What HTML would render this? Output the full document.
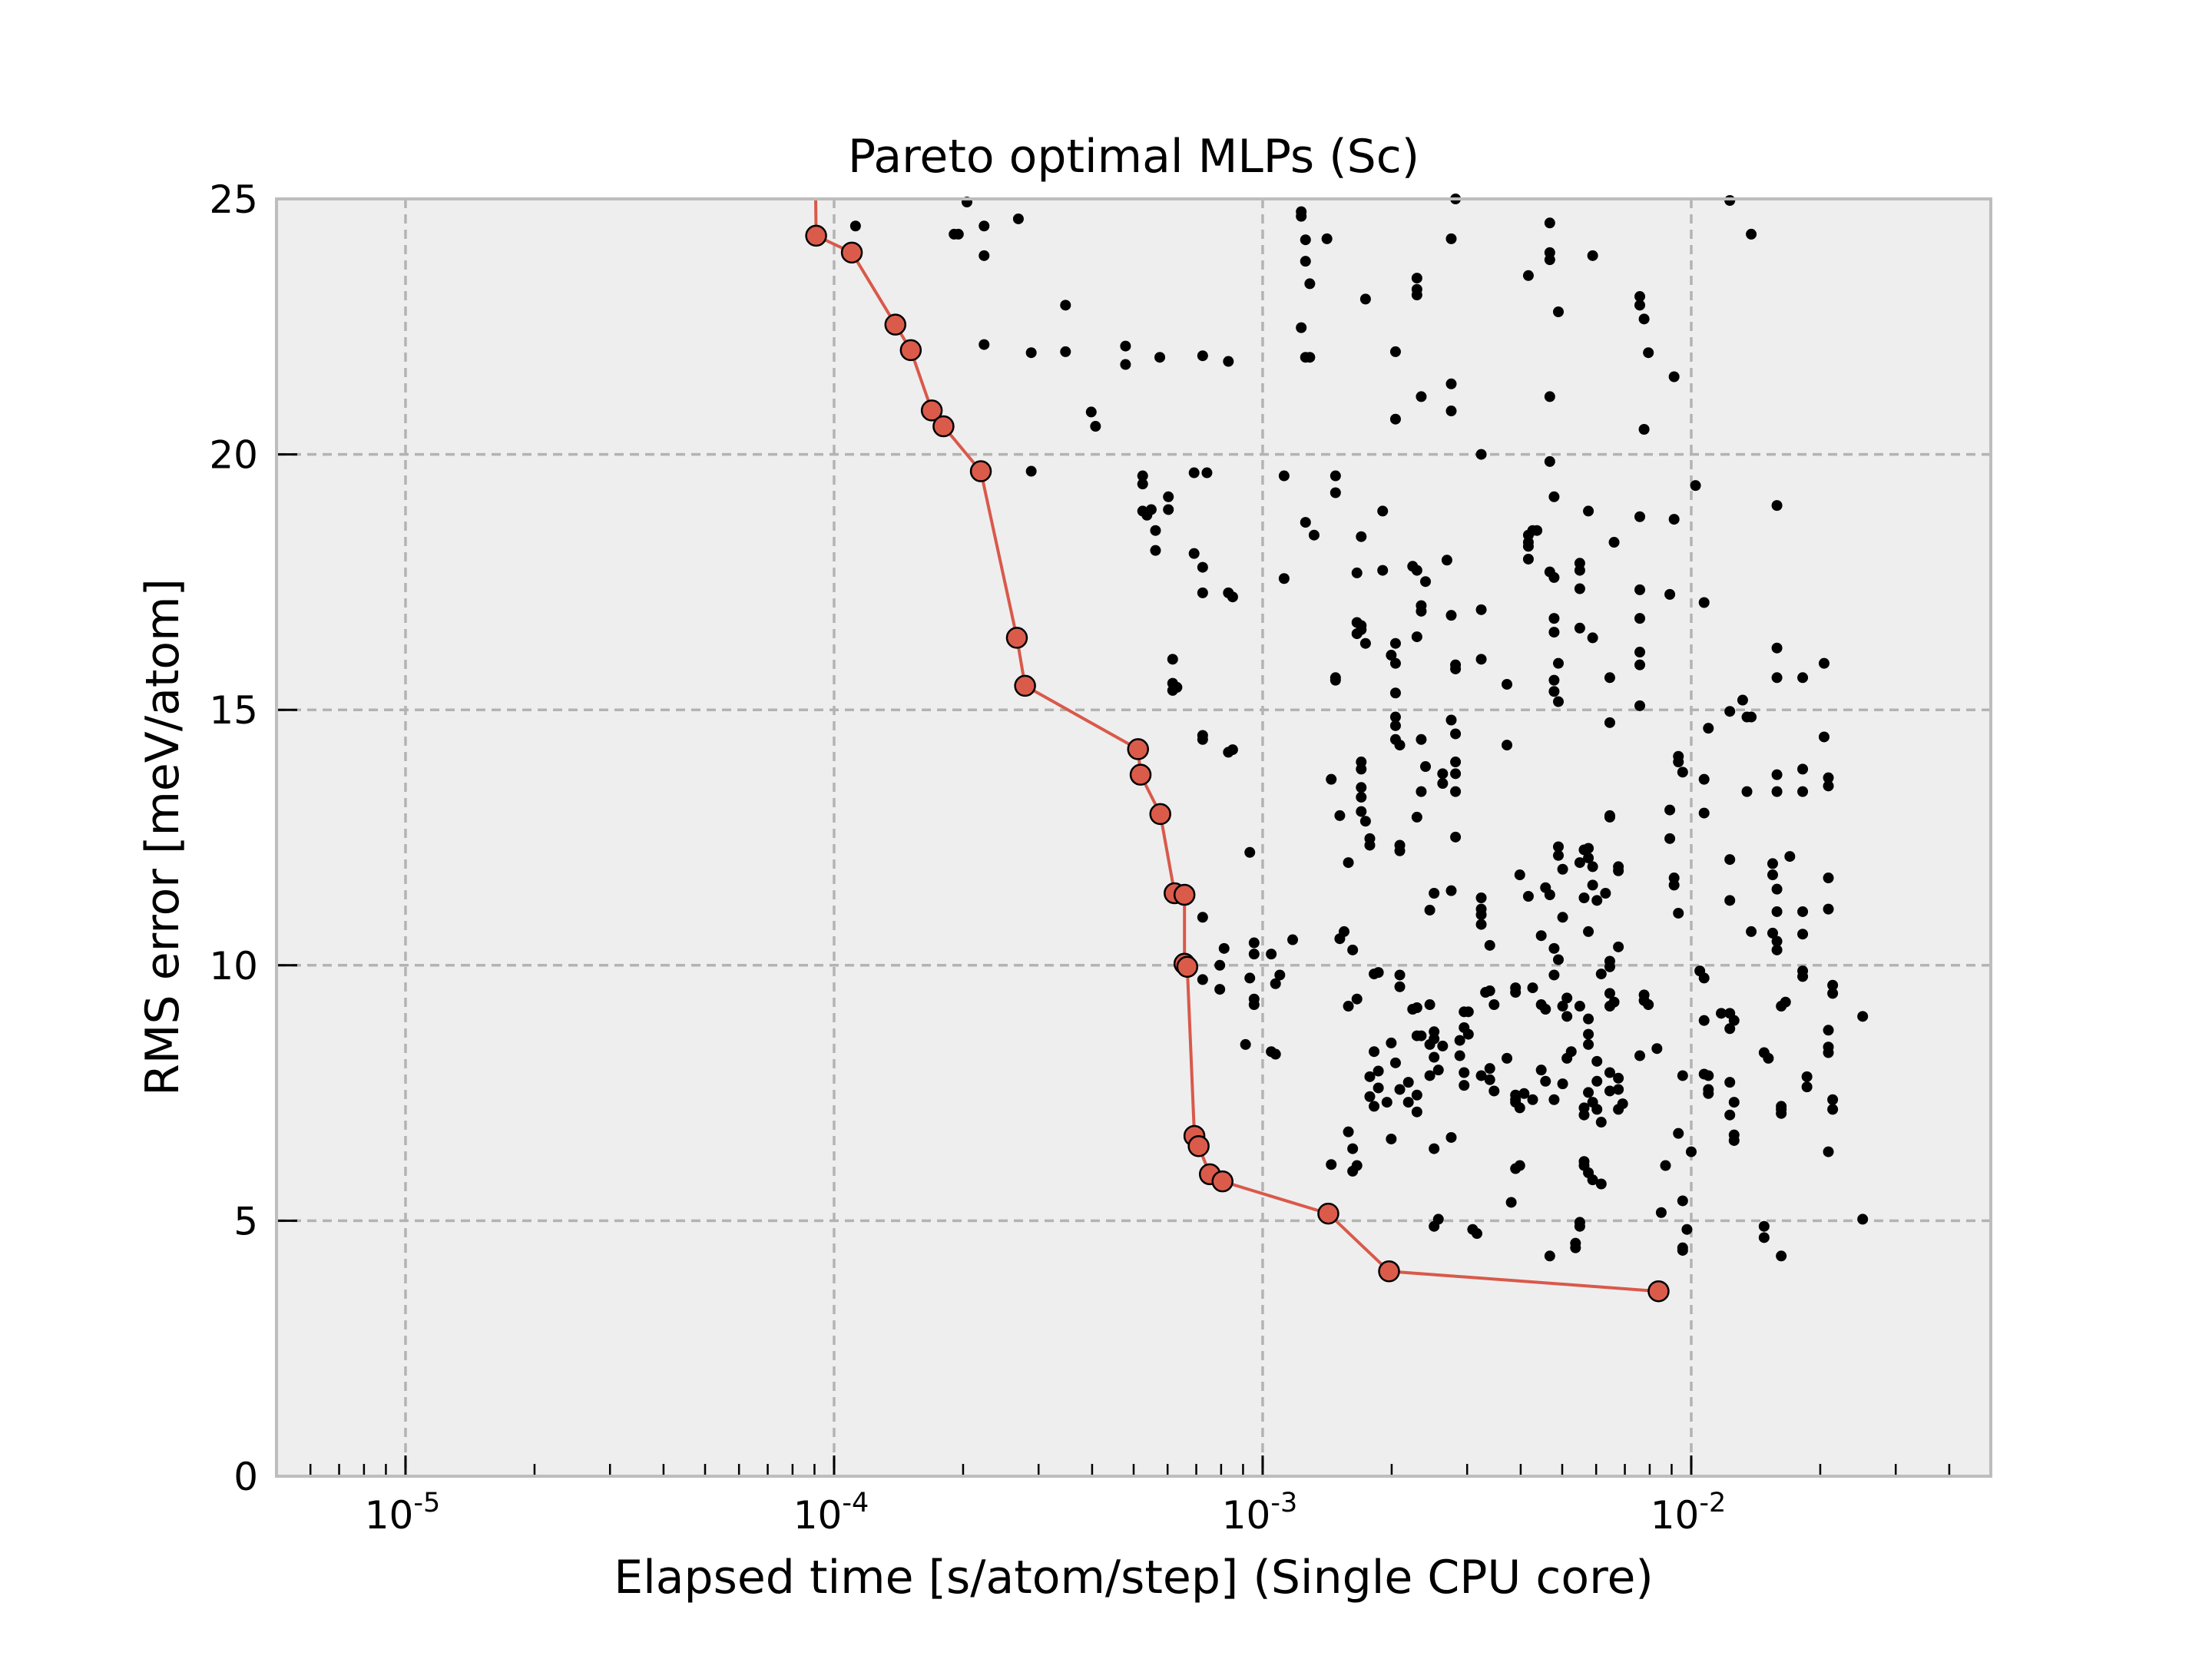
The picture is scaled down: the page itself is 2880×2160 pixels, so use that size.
<!DOCTYPE html>
<html><head><meta charset="utf-8">
<style>
html,body{margin:0;padding:0;background:#fff;}
svg{display:block;}
text{font-family:"DejaVu Sans","Liberation Sans",sans-serif;fill:#000;}
</style></head>
<body>
<svg id="chart" width="2880" height="2160" viewBox="0 0 2880 2160" xmlns="http://www.w3.org/2000/svg">
<rect x="0" y="0" width="2880" height="2160" fill="#fff"/>
<rect x="360" y="259" width="2232" height="1663" fill="#eeeeee"/>
<g id="grid"></g>
<g id="ticks"></g>
<g id="scatter"></g>
<g id="pareto"></g>
<rect x="360" y="259" width="2232" height="1663" fill="none" stroke="#bdbdbd" stroke-width="4"/>
<g id="labels"></g>
<text x="1476" y="224" font-size="60" text-anchor="middle">Pareto optimal MLPs (Sc)</text>
<text x="1476" y="2074" font-size="60" text-anchor="middle">Elapsed time [s/atom/step] (Single CPU core)</text>
<text x="0" y="0" font-size="60" text-anchor="middle" transform="translate(232,1090) rotate(-90)">RMS error [meV/atom]</text>
</svg>
<script>
const yTicks = [0, 5, 10, 15, 20, 25];
const xDecades = [-5, -4, -3, -2];
const paretoTime = [9.0e-5, 9.08e-5, 1.10e-4, 1.39e-4, 1.51e-4, 1.69e-4, 1.80e-4, 2.20e-4, 2.67e-4, 2.79e-4, 5.12e-4, 5.19e-4, 5.77e-4, 6.23e-4, 6.57e-4, 6.57e-4, 6.67e-4, 6.93e-4, 7.09e-4, 7.53e-4, 8.06e-4, 1.423e-3, 1.972e-3, 8.39e-3];
const paretoRms = [27, 24.28, 23.95, 22.54, 22.04, 20.86, 20.55, 19.67, 16.41, 15.47, 14.23, 13.73, 12.96, 11.41, 11.38, 10.03, 9.97, 6.66, 6.46, 5.91, 5.77, 5.14, 4.01, 3.62];
const scatterLogTime = [
-3.95,-3.69,-3.65,-3.65,-3.72,-3.71,-3.57,-2.91,-2.91,-2.90,-2.85,-2.90,-2.89,-2.55,-2.56,-2.64,-2.64,-2.64,-2.33,-2.33,-2.33,-2.38,-2.23,-2.31,-2.33,-1.91,-1.86,-2.12,-2.12,-2.11,-2.10,-2.04,-2.11,-2.56,-2.56,-2.63,-2.69,-2.69,-2.76,-2.91,-2.90,-2.89,-3.46,-3.46,-3.54,-3.65,-3.40,-3.39,-3.32,-3.32,-3.24,-3.14,-3.08,-3.54,
-3.28,-3.28,-3.28,-3.27,-3.26,-3.22,-3.22,-3.25,-3.25,-3.16,-3.13,-3.16,-3.14,-3.14,-3.08,-3.07,-3.21,-3.21,-3.20,-3.21,-3.14,-3.14,-3.07,-3.08,-2.95,-2.95,-2.90,-2.88,-2.83,-2.83,-2.83,-2.83,-2.72,-2.72,-2.77,-2.78,-2.78,-2.78,-2.77,-2.76,-2.77,-2.69,-2.70,-2.69,-2.69,-2.69,-2.69,-2.65,-2.64,-2.62,-2.63,-2.63,-2.64,-2.57,-2.56,-2.55,-2.55,-2.56,-2.55,-2.49,-2.49,-2.49,-2.43,-2.43,-2.38,-2.38,-2.38,-2.37,-2.38,-2.36,-2.33,-2.32,-2.33,-2.32,-2.32,-2.32,-2.32,-2.32,-2.31,-2.31,-2.26,-2.26,-2.26,-2.26,-2.24,-2.18,-2.23,-2.19,-2.19,-2.12,-2.12,-2.12,-2.12,-2.12,-2.12,-2.05,-2.04,-1.99,-1.97,-2.05,-1.80,-1.80,-1.80,-1.74,-1.69,-1.69,-1.91,-1.88,-1.87,-1.86,-1.80,-1.80,-1.74,-1.74,-1.68,-1.68,-1.87,-1.97,-1.97,-2.02,-2.03,-2.03,-1.96,-2.19,
-2.84,-2.82,-2.77,-2.77,-2.77,-2.77,-2.77,-2.76,-2.75,-2.75,-2.80,-2.69,-2.68,-2.68,-2.68,-2.63,-2.62,-2.63,-2.64,-2.58,-2.58,-2.55,-2.55,-2.55,-2.55,-2.56,-2.60,-2.61,-2.49,-2.49,-2.47,-2.49,-2.49,-2.40,-2.38,-2.34,-2.33,-2.35,-2.31,-2.31,-2.30,-2.26,-2.25,-2.24,-2.23,-2.25,-2.23,-2.20,-2.24,-2.30,-2.32,-2.19,-2.17,-2.17,-2.22,-2.24,-2.19,-2.19,-2.17,-2.05,-2.04,-2.04,-2.03,-1.91,-1.91,-1.86,-1.81,-1.81,-1.80,-1.80,-1.81,-1.80,-1.80,-1.74,-1.74,-1.68,-1.68,-1.77,-3.03,-3.14,-3.09,-3.10,-3.14,-3.10,-3.02,-3.02,-2.98,-2.96,-2.97,-2.93,-3.03,-3.02,-3.02,-3.04,-2.98,-2.97,-2.81,-2.82,-2.79,
-2.80,-2.78,-2.74,-2.73,-2.68,-2.68,-2.65,-2.64,-2.64,-2.63,-2.61,-2.60,-2.60,-2.58,-2.53,-2.52,-2.53,-2.52,-2.48,-2.47,-2.46,-2.41,-2.41,-2.37,-2.35,-2.34,-2.32,-2.31,-2.29,-2.30,-2.29,-2.26,-2.24,-2.24,-2.24,-2.21,-2.19,-2.19,-2.18,-2.11,-2.11,-2.10,-1.98,-1.97,-1.97,-1.93,-1.91,-1.90,-1.91,-1.78,-1.79,-1.74,-1.74,-1.67,-1.67,-1.68,-1.68,-1.68,-1.60,
-2.74,-2.73,-2.73,-2.75,-2.75,-2.74,-2.71,-2.70,-2.69,-2.68,-2.66,-2.66,-2.64,-2.61,-2.60,-2.61,-2.59,-2.54,-2.54,-2.53,-2.53,-2.49,-2.47,-2.43,-2.41,-2.41,-2.40,-2.39,-2.41,-2.46,-2.47,-2.37,-2.35,-2.34,-2.32,-2.30,-2.29,-2.28,-2.22,-2.22,-2.24,-2.23,-2.22,-2.21,-2.19,-2.19,-2.17,-2.17,-2.16,-2.17,-2.25,-2.25,-2.12,-2.08,-2.02,-1.96,-1.96,-1.96,-1.91,-1.90,-1.83,-1.82,-1.73,-1.73,-1.67,-1.67,-2.03,-2.00,-2.06,-1.97,-1.91,-1.90,-1.90,-1.79,-1.79,-1.79,-1.68,
-2.80,-2.79,-2.78,-2.79,-2.84,-2.70,-2.64,-2.56,-2.60,-2.41,-2.42,-2.40,-2.25,-2.25,-2.24,-2.23,-2.21,-2.59,-2.60,-2.51,-2.50,-2.33,-2.26,-2.26,-2.27,-2.27,-2.07,-2.02,-2.01,-2.02,-2.02,-1.83,-1.83,-1.79,-1.60];
const scatterRms = [
24.47,24.94,24.47,23.89,24.31,24.31,24.61,24.75,24.66,24.20,24.22,23.78,23.34,25.0,24.22,23.45,23.23,23.12,24.53,23.95,23.81,23.50,23.89,22.79,21.13,24.97,24.31,23.09,22.92,22.65,21.99,21.52,20.49,21.38,20.85,21.13,20.69,22.01,23.04,22.48,21.90,21.90,22.92,22.01,21.99,22.15,20.83,20.55,22.12,21.76,21.90,21.93,21.82,19.67,
19.58,19.42,18.89,18.81,18.92,19.17,18.92,18.51,18.12,19.64,19.64,18.06,17.79,17.29,17.29,17.21,15.99,15.52,15.44,15.38,14.50,14.42,14.22,14.17,19.58,17.57,18.67,18.42,19.58,19.25,15.63,15.58,18.89,17.73,18.39,17.68,16.71,16.49,16.65,16.30,16.57,16.30,16.07,15.91,15.33,14.86,14.69,17.81,17.73,17.51,16.93,17.04,16.43,17.93,16.85,15.88,15.80,14.80,14.53,20.00,16.96,15.99,15.50,14.31,18.42,18.28,18.20,18.51,17.95,18.51,17.70,17.59,19.86,19.17,16.79,16.52,15.58,15.36,15.16,15.91,17.87,17.73,17.37,16.60,18.89,18.28,16.41,15.63,14.75,18.78,17.35,16.79,16.13,15.88,15.08,17.26,18.73,19.39,17.10,13.04,19.00,16.21,15.63,15.63,15.91,14.47,14.97,15.19,14.86,14.86,13.73,13.40,13.84,13.40,13.67,13.51,13.40,13.64,12.98,13.78,13.98,14.09,14.64,12.93,
13.64,12.93,13.98,13.84,13.48,13.29,13.01,12.82,12.48,12.35,12.01,14.42,14.31,12.35,12.24,14.42,13.89,13.40,12.90,13.75,13.56,13.98,13.75,13.40,12.51,11.46,11.41,11.08,10.99,10.80,10.39,11.10,11.32,11.77,11.35,11.52,11.38,10.58,12.32,12.15,11.88,12.01,12.26,12.10,11.93,11.32,11.57,11.41,10.66,10.94,10.33,12.90,11.93,11.85,11.27,12.29,10.08,9.97,10.36,12.48,11.71,11.57,11.02,12.07,11.27,10.66,11.99,11.77,11.49,11.05,10.63,10.47,10.30,11.05,10.61,11.71,11.10,12.13,12.21,10.94,10.33,10.00,9.72,9.53,10.44,10.22,10.22,9.81,9.64,10.50,9.75,9.34,9.23,8.45,8.31,8.26,10.66,10.52,10.30,
9.20,9.34,9.83,9.86,9.81,9.58,9.14,9.17,8.62,8.62,9.23,8.70,8.56,8.42,9.09,9.09,8.78,8.65,9.47,9.50,9.23,9.56,9.47,9.56,9.23,9.14,9.81,10.11,9.36,9.20,9.00,9.20,8.95,8.65,8.45,9.83,9.45,9.20,9.28,9.42,9.31,9.23,9.89,9.75,8.92,9.06,9.06,8.92,8.76,9.28,9.20,9.89,9.78,9.61,9.45,8.73,8.40,8.29,9.00,
8.31,7.93,7.60,7.82,7.43,7.24,7.32,8.48,8.09,7.57,7.71,7.32,7.46,7.84,8.20,8.45,7.95,8.53,8.23,7.90,7.65,7.84,7.98,8.18,7.46,7.32,7.21,7.49,7.37,7.54,7.76,7.37,7.95,7.73,7.37,7.68,8.18,8.31,8.12,7.73,7.51,7.32,7.18,6.93,7.54,7.90,7.79,7.57,7.29,7.18,7.21,7.07,8.23,8.37,7.84,7.84,7.57,7.49,7.71,7.32,8.29,8.18,7.82,7.62,7.37,7.18,6.71,6.35,6.08,7.87,7.07,6.68,6.57,7.24,7.18,7.10,6.35,
6.74,6.41,6.08,5.97,6.10,6.60,7.13,6.63,6.41,6.02,5.36,6.08,6.16,6.08,5.94,5.80,5.72,5.03,4.89,4.83,4.75,4.31,4.97,4.89,4.56,4.47,5.16,5.39,4.83,4.47,4.42,4.89,4.67,4.31,5.03];

const NS = 'http://www.w3.org/2000/svg';
const L = 360, R = 2592, T = 259, B = 1922;
const logMin = Math.log10(5e-6), logMax = Math.log10(5e-2);
const yMax = 25;
function xLog(lg) { return L + (lg - logMin) / (logMax - logMin) * (R - L); }
function xScale(t) { return xLog(Math.log10(t)); }
function yScale(v) { return B - v / yMax * (B - T); }
function mk(tag, attrs, parent) {
  const e = document.createElementNS(NS, tag);
  for (const k in attrs) e.setAttribute(k, attrs[k]);
  parent.appendChild(e);
  return e;
}
const grid = document.getElementById('grid');
const ticks = document.getElementById('ticks');
const labels = document.getElementById('labels');

yTicks.forEach(v => {
  const y = yScale(v);
  if (v > 0 && v < yMax) {
    const g = mk('line', {x1: L, x2: R, y1: y, y2: y, stroke: '#b3b3b3', 'stroke-width': 3.5, 'stroke-dasharray': '12,8'}, grid);
    
    
  }
  const tk = mk('line', {x1: L, x2: L + 27, y1: y, y2: y, stroke: '#000', 'stroke-width': 3}, ticks);
  
  
  const tx = mk('text', {x: 336, y: y + 18, 'font-size': 50, 'text-anchor': 'end'}, labels);
  tx.textContent = String(v);
  
  
});

xDecades.forEach(d => {
  const x = xLog(d);
  const g = mk('line', {x1: x, x2: x, y1: T, y2: B, stroke: '#b3b3b3', 'stroke-width': 3.5, 'stroke-dasharray': '12,8'}, grid);
  
  
  const tk = mk('line', {x1: x, x2: x, y1: B, y2: B - 27, stroke: '#000', 'stroke-width': 3}, ticks);
  
  
  const tx = mk('text', {x: x - 4, y: 1990, 'font-size': 50, 'text-anchor': 'middle'}, labels);
  
  
  const base = mk('tspan', {}, tx);
  base.textContent = '10';
  const sup = mk('tspan', {dy: -22, 'font-size': 35}, tx);
  sup.textContent = String(d);
});
for (let d = -6; d <= -2; d++) {
  for (let m = 2; m <= 9; m++) {
    const lg = d + Math.log10(m);
    if (lg <= logMin + 1e-6 || lg >= logMax - 1e-6) continue;
    const x = xLog(lg);
    const tk = mk('line', {x1: x, x2: x, y1: B, y2: B - 16, stroke: '#000', 'stroke-width': 2.5}, ticks);
    
    
  }
}

const sc = document.getElementById('scatter');
for (let i = 0; i < scatterLogTime.length; i++) {
  const c = mk('circle', {cx: xLog(scatterLogTime[i]), cy: yScale(scatterRms[i]), r: 7, fill: '#000'}, sc);
  
  
}

const pg = document.getElementById('pareto');
const cp = mk('clipPath', {id: 'plotclip'}, pg);
mk('rect', {x: L, y: T, width: R - L, height: B - T}, cp);
const pts = paretoTime.map((t, i) => xScale(t).toFixed(1) + ',' + yScale(paretoRms[i]).toFixed(1)).join(' ');
const pl = mk('polyline', {points: pts, fill: 'none', stroke: '#d9594a', 'stroke-width': 4, 'clip-path': 'url(#plotclip)'}, pg);


for (let i = 0; i < paretoTime.length; i++) {
  if (paretoRms[i] > yMax) continue;
  const c = mk('circle', {cx: xScale(paretoTime[i]), cy: yScale(paretoRms[i]), r: 13, fill: '#db5b4b', stroke: '#000', 'stroke-width': 2.5}, pg);
  
  
}
</script>
</body></html>
